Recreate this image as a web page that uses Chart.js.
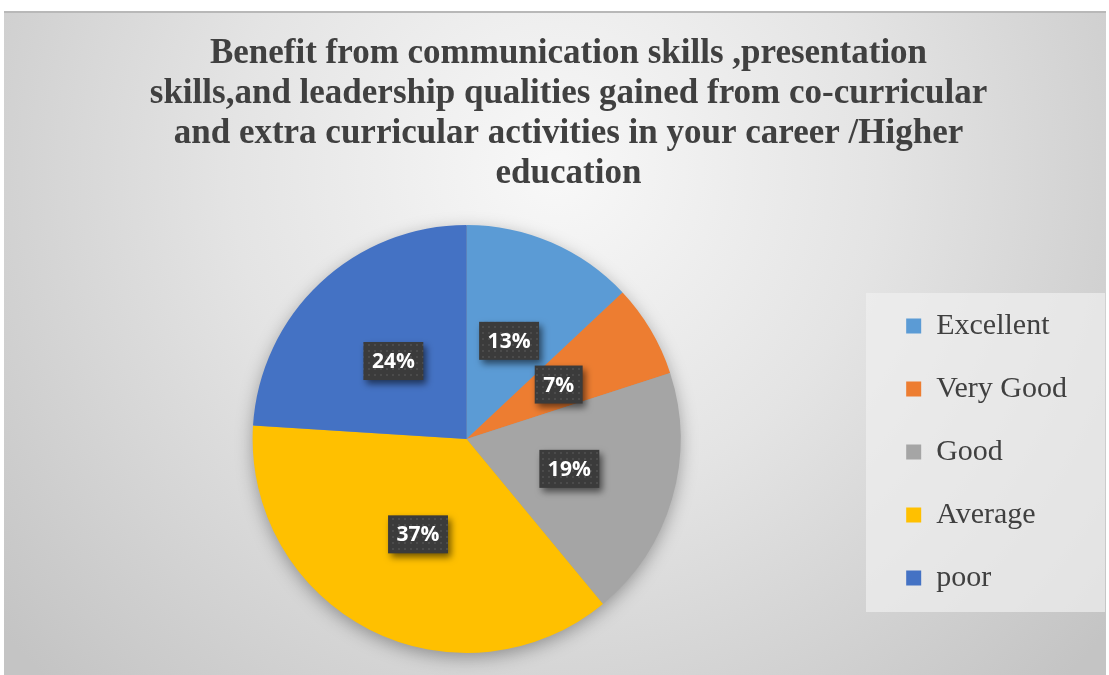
<!DOCTYPE html>
<html>
<head>
<meta charset="utf-8">
<script src="https://cdn.jsdelivr.net/npm/chart.js@4.4.1/dist/chart.umd.min.js"></script>
<style>
  html, body { margin: 0; padding: 0; background: #ffffff; }
  #wrap { width: 1109px; height: 675px; position: relative; }
</style>
</head>
<body>
<div id="wrap"><canvas id="c" width="1109" height="675"></canvas></div>
<script>
const titleLines = [
  'Benefit from communication skills ,presentation',
  'skills,and leadership qualities gained from co-curricular',
  'and extra curricular activities in your career /Higher',
  'education'
];
const categories = ['Excellent', 'Very Good', 'Good', 'Average', 'poor'];
const percentages = [13, 7, 19, 37, 24];
const sliceColors = ['#5B9BD5', '#ED7D31', '#A5A5A5', '#FFC000', '#4472C4'];

// background panel + legend box + pie shadow
const backgroundPlugin = {
  id: 'panelBg',
  beforeDraw(chart) {
    const ctx = chart.ctx;
    ctx.save();
    const g = ctx.createRadialGradient(555, 170, 0, 555, 170, 720);
    g.addColorStop(0, '#f8f8f8');
    g.addColorStop(0.45, '#e4e4e4');
    g.addColorStop(1, '#c4c4c4');
    ctx.fillStyle = g;
    ctx.fillRect(4, 11, 1102, 664);
    ctx.fillStyle = '#b8b8b8';
    ctx.fillRect(4, 11, 1102, 2);
    ctx.fillStyle = 'rgba(240,240,240,0.7)';
    ctx.fillRect(866, 293, 239, 319);
    ctx.restore();
  },
  beforeDatasetsDraw(chart) {
    const arc = chart.getDatasetMeta(0).data[0];
    if (!arc) return;
    const ctx = chart.ctx;
    ctx.save();
    ctx.shadowColor = 'rgba(0,0,0,0.35)';
    ctx.shadowBlur = 18;
    ctx.shadowOffsetX = 0;
    ctx.shadowOffsetY = 5;
    ctx.fillStyle = '#999999';
    ctx.beginPath();
    ctx.arc(arc.x, arc.y, arc.outerRadius - 1, 0, Math.PI * 2);
    ctx.fill();
    ctx.restore();
  }
};

// shift legend rows to match reference
const legendShift = {
  id: 'legendShift',
  afterLayout(chart) {
    const lg = chart.legend;
    if (lg) { lg.top += 13; lg.bottom += 13; }
  }
};

// dotted pattern for label boxes
function makePattern(ctx) {
  const pc = document.createElement('canvas');
  pc.width = 6; pc.height = 6;
  const p = pc.getContext('2d');
  p.fillStyle = '#3b3b3b';
  p.fillRect(0, 0, 6, 6);
  p.fillStyle = '#4b4b4b';
  p.fillRect(2, 2, 2, 2);
  return ctx.createPattern(pc, 'repeat');
}

const labelPlugin = {
  id: 'sliceLabels',
  afterDatasetsDraw(chart) {
    const ctx = chart.ctx;
    const meta = chart.getDatasetMeta(0);
    const ds = chart.data.datasets[0];
    const pattern = makePattern(ctx);
    ctx.save();
    ctx.font = 'bold 21px "Open Sans"';
    ctx.textAlign = 'center';
    ctx.textBaseline = 'middle';
    meta.data.forEach((arc, i) => {
      const pos = arc.tooltipPosition();
      const text = ds.data[i] + '%';
      const w = ctx.measureText(text).width + 17;
      const h = 38;
      const x = pos.x - w / 2, y = pos.y - h / 2;
      ctx.save();
      ctx.shadowColor = 'rgba(0,0,0,0.55)';
      ctx.shadowBlur = 7;
      ctx.shadowOffsetX = 3;
      ctx.shadowOffsetY = 4;
      ctx.fillStyle = pattern;
      ctx.fillRect(x, y, w, h);
      ctx.restore();
      ctx.fillStyle = '#ffffff';
      ctx.fillText(text, pos.x, pos.y + 1);
    });
    ctx.restore();
  }
};

new Chart(document.getElementById('c'), {
  type: 'pie',
  data: {
    labels: categories,
    datasets: [{
      data: percentages,
      backgroundColor: sliceColors,
      borderWidth: 0,
      hoverOffset: 0
    }]
  },
  options: {
    responsive: false,
    animation: false,
    layout: { padding: { top: 11, left: 60, right: 32, bottom: 22 } },
    plugins: {
      title: {
        display: true,
        text: titleLines,
        color: '#404040',
        font: { family: '"Liberation Serif", "Times New Roman", serif', size: 35, weight: 'bold', lineHeight: 1.143 },
        padding: { top: 23, bottom: 31 }
      },
      legend: {
        display: true,
        position: 'right',
        fullSize: false,
        labels: {
          color: '#404040',
          font: { family: '"Liberation Serif", "Times New Roman", serif', size: 30 },
          boxWidth: 15,
          boxHeight: 15,
          padding: 33
        }
      },
      tooltip: { enabled: false }
    }
  },
  plugins: [backgroundPlugin, legendShift, labelPlugin]
});
</script>
</body>
</html>
